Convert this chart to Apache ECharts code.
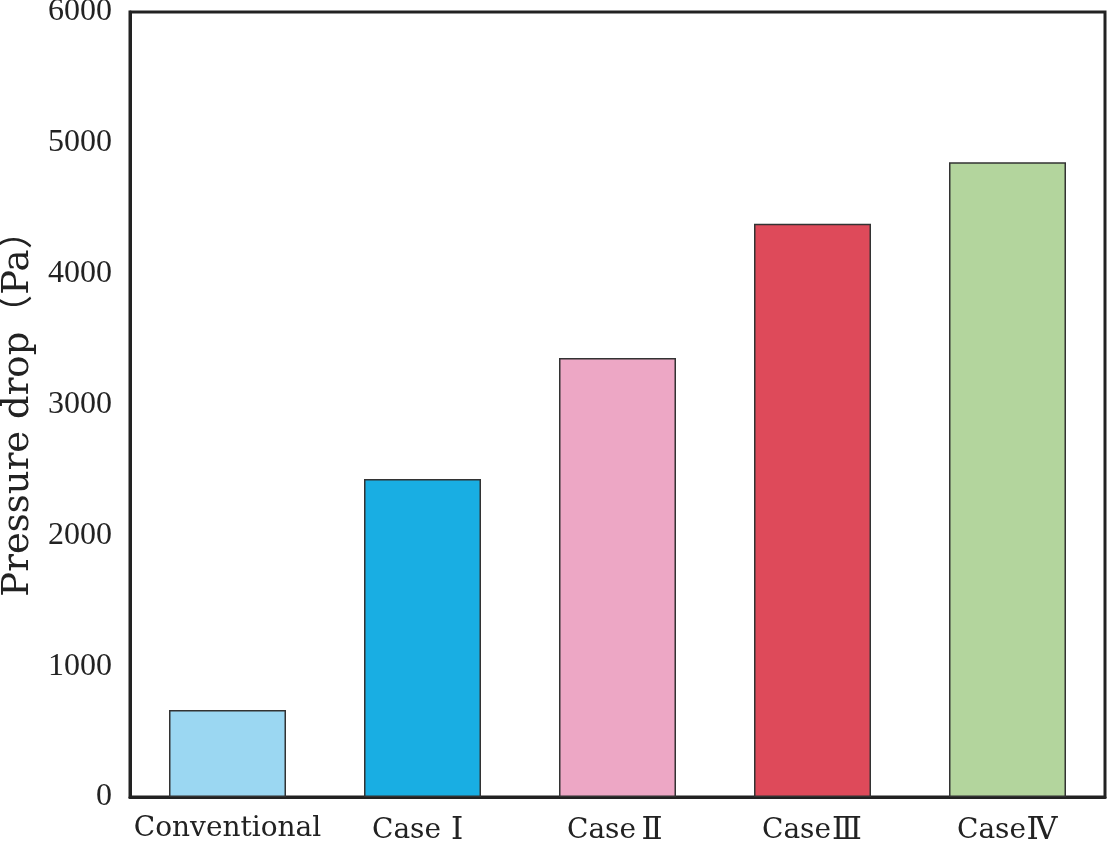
<!DOCTYPE html>
<html>
<head>
<meta charset="utf-8">
<script src="https://cdn.jsdelivr.net/npm/echarts@6/dist/echarts.min.js"></script>
<style>html,body{margin:0;padding:0;background:#fff;}#c{width:1110px;height:846px;}</style>
</head>
<body>
<div id="c"></div>
<script>
const categories = ['Conventional', 'Case\u2160', 'Case\u2161', 'Case\u2162', 'Case\u2163'];
const values = [665, 2430, 3355, 4382, 4851];
const barColors = ['#9BD7F2', '#19AEE3', '#EDA7C5', '#DE4A5A', '#B3D59D'];
const yTicks = [0, 1000, 2000, 3000, 4000, 5000, 6000];

const labelFont = "'DejaVu Serif', 'Noto Sans CJK SC', serif";
const chart = echarts.init(document.getElementById('c'));
chart.setOption({
  animation: false,
  backgroundColor: '#fff',
  grid: { left: 130, right: 5, top: 12, bottom: 49, containLabel: false, outerBoundsMode: 'none', show: true, borderColor: '#222', borderWidth: 3, backgroundColor: 'transparent' },
  xAxis: {
    type: 'category',
    data: categories,
    axisLine: { show: true, lineStyle: { color: '#222', width: 3 } },
    axisTick: { show: false },
    axisLabel: {
      interval: 0, margin: 18, fontFamily: labelFont, fontSize: 28, color: '#222',
      formatter: function (v) {
        const m = v.match(/^(Case)(.)$/);
        return m ? '{a|' + m[1] + '}{r|' + m[2] + '}' : '{a|' + v + '}';
      },
      rich: {
        a: { fontFamily: labelFont, fontSize: 28, color: '#222' },
        r: { fontFamily: labelFont, fontSize: 31, color: '#222', width: 32, align: 'center' }
      }
    }
  },
  yAxis: {
    type: 'value',
    min: yTicks[0],
    max: yTicks[yTicks.length - 1],
    interval: 1000,
    name: 'Pressure drop\uFF08Pa\uFF09',
    nameLocation: 'middle',
    nameGap: 92,
    nameTextStyle: { fontFamily: labelFont, fontSize: 37, color: '#222' },
    axisLine: { show: true, lineStyle: { color: '#222', width: 3 } },
    axisTick: { show: false },
    splitLine: { show: false },
    axisLabel: { margin: 18, fontFamily: 'Liberation Serif', fontSize: 32, color: '#222', formatter: v => String(v) }
  },
  series: [{
    type: 'bar',
    barWidth: '60%',
    data: values.map((v, i) => ({ value: v, itemStyle: { color: barColors[i] } })),
    itemStyle: { borderColor: '#333', borderWidth: 1.5 }
  }]
});
</script>
</body>
</html>
